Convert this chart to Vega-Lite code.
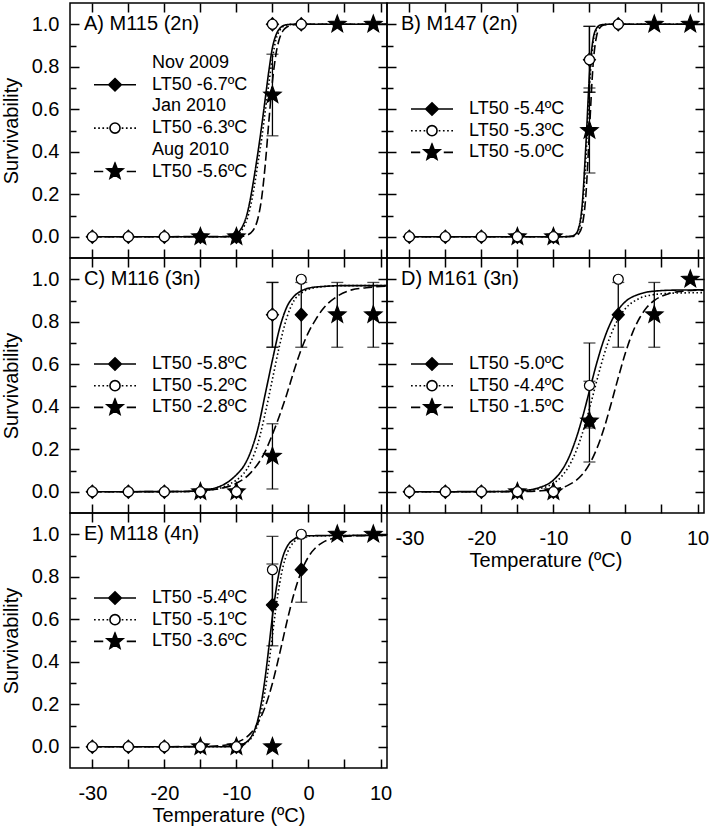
{
"$schema":"https://vega.github.io/schema/vega-lite/v6.json",
"padding":{"left":0,"top":1,"right":0,"bottom":0},
"config":{
 "font":"Liberation Sans",
 "view":{"stroke":"black","strokeWidth":1.5},
 "axis":{"grid":false,"domain":false,"labelFont":"Liberation Sans","labelFontSize":20,"labelColor":"black","titleFont":"Liberation Sans","titleFontSize":20,"titleFontWeight":"normal","titleColor":"black","tickColor":"black","tickWidth":1.5,"labelFlush":false,"labelOverlap":false},
 "legend":{"labelFont":"Liberation Sans","labelFontSize":18,"labelColor":"black","labelLimit":400},
 "text":{"font":"Liberation Sans","fontSize":20,"color":"black","align":"left","baseline":"middle"}
},
"datasets":{
"labels":[
{"panel":"A","label":"A) M115 (2n)"},
{"panel":"B","label":"B) M147 (2n)"},
{"panel":"C","label":"C) M116 (3n)"},
{"panel":"D","label":"D) M161 (3n)"},
{"panel":"E","label":"E) M118 (4n)"}
],
"points":[
{"panel":"A","series":"Nov 2009","legend":"LT50 -6.7ºC","t":-30,"s":0},
{"panel":"A","series":"Nov 2009","legend":"LT50 -6.7ºC","t":-25,"s":0},
{"panel":"A","series":"Nov 2009","legend":"LT50 -6.7ºC","t":-20,"s":0},
{"panel":"A","series":"Nov 2009","legend":"LT50 -6.7ºC","t":-15,"s":0},
{"panel":"A","series":"Nov 2009","legend":"LT50 -6.7ºC","t":-10,"s":0},
{"panel":"A","series":"Nov 2009","legend":"LT50 -6.7ºC","t":-5,"s":1},
{"panel":"A","series":"Nov 2009","legend":"LT50 -6.7ºC","t":-1,"s":1},
{"panel":"A","series":"Aug 2010","legend":"LT50 -5.6ºC","t":-15,"s":0},
{"panel":"A","series":"Aug 2010","legend":"LT50 -5.6ºC","t":-10,"s":0},
{"panel":"A","series":"Aug 2010","legend":"LT50 -5.6ºC","t":-5,"s":0.667,"lo":0.475,"hi":0.859},
{"panel":"A","series":"Aug 2010","legend":"LT50 -5.6ºC","t":4,"s":1},
{"panel":"A","series":"Aug 2010","legend":"LT50 -5.6ºC","t":9,"s":1},
{"panel":"A","series":"Jan 2010","legend":"LT50 -6.3ºC","t":-30,"s":0},
{"panel":"A","series":"Jan 2010","legend":"LT50 -6.3ºC","t":-25,"s":0},
{"panel":"A","series":"Jan 2010","legend":"LT50 -6.3ºC","t":-20,"s":0},
{"panel":"A","series":"Jan 2010","legend":"LT50 -6.3ºC","t":-5,"s":1},
{"panel":"A","series":"Jan 2010","legend":"LT50 -6.3ºC","t":-1,"s":1},

{"panel":"B","series":"Nov 2009","legend":"LT50 -5.4ºC","t":-30,"s":0},
{"panel":"B","series":"Nov 2009","legend":"LT50 -5.4ºC","t":-25,"s":0},
{"panel":"B","series":"Nov 2009","legend":"LT50 -5.4ºC","t":-20,"s":0},
{"panel":"B","series":"Nov 2009","legend":"LT50 -5.4ºC","t":-15,"s":0},
{"panel":"B","series":"Nov 2009","legend":"LT50 -5.4ºC","t":-10,"s":0},
{"panel":"B","series":"Nov 2009","legend":"LT50 -5.4ºC","t":-5,"s":0.833,"lo":0.68,"hi":0.99},
{"panel":"B","series":"Nov 2009","legend":"LT50 -5.4ºC","t":-1,"s":1},
{"panel":"B","series":"Aug 2010","legend":"LT50 -5.0ºC","t":-15,"s":0},
{"panel":"B","series":"Aug 2010","legend":"LT50 -5.0ºC","t":-10,"s":0},
{"panel":"B","series":"Aug 2010","legend":"LT50 -5.0ºC","t":-5,"s":0.5,"lo":0.3,"hi":0.7},
{"panel":"B","series":"Aug 2010","legend":"LT50 -5.0ºC","t":4,"s":1},
{"panel":"B","series":"Aug 2010","legend":"LT50 -5.0ºC","t":9,"s":1},
{"panel":"B","series":"Jan 2010","legend":"LT50 -5.3ºC","t":-30,"s":0},
{"panel":"B","series":"Jan 2010","legend":"LT50 -5.3ºC","t":-25,"s":0},
{"panel":"B","series":"Jan 2010","legend":"LT50 -5.3ºC","t":-20,"s":0},
{"panel":"B","series":"Jan 2010","legend":"LT50 -5.3ºC","t":-15,"s":0},
{"panel":"B","series":"Jan 2010","legend":"LT50 -5.3ºC","t":-10,"s":0},
{"panel":"B","series":"Jan 2010","legend":"LT50 -5.3ºC","t":-5,"s":0.833,"lo":0.68,"hi":0.99},
{"panel":"B","series":"Jan 2010","legend":"LT50 -5.3ºC","t":-1,"s":1},

{"panel":"C","series":"Nov 2009","legend":"LT50 -5.8ºC","t":-30,"s":0},
{"panel":"C","series":"Nov 2009","legend":"LT50 -5.8ºC","t":-25,"s":0},
{"panel":"C","series":"Nov 2009","legend":"LT50 -5.8ºC","t":-20,"s":0},
{"panel":"C","series":"Nov 2009","legend":"LT50 -5.8ºC","t":-15,"s":0},
{"panel":"C","series":"Nov 2009","legend":"LT50 -5.8ºC","t":-10,"s":0},
{"panel":"C","series":"Nov 2009","legend":"LT50 -5.8ºC","t":-5,"s":0.833,"lo":0.68,"hi":0.985},
{"panel":"C","series":"Nov 2009","legend":"LT50 -5.8ºC","t":-1,"s":0.833,"lo":0.68,"hi":0.985},
{"panel":"C","series":"Aug 2010","legend":"LT50 -2.8ºC","t":-15,"s":0},
{"panel":"C","series":"Aug 2010","legend":"LT50 -2.8ºC","t":-10,"s":0},
{"panel":"C","series":"Aug 2010","legend":"LT50 -2.8ºC","t":-5,"s":0.167,"lo":0.013,"hi":0.32},
{"panel":"C","series":"Aug 2010","legend":"LT50 -2.8ºC","t":4,"s":0.833,"lo":0.68,"hi":0.985},
{"panel":"C","series":"Aug 2010","legend":"LT50 -2.8ºC","t":9,"s":0.833,"lo":0.68,"hi":0.985},
{"panel":"C","series":"Jan 2010","legend":"LT50 -5.2ºC","t":-30,"s":0},
{"panel":"C","series":"Jan 2010","legend":"LT50 -5.2ºC","t":-25,"s":0},
{"panel":"C","series":"Jan 2010","legend":"LT50 -5.2ºC","t":-20,"s":0},
{"panel":"C","series":"Jan 2010","legend":"LT50 -5.2ºC","t":-15,"s":0},
{"panel":"C","series":"Jan 2010","legend":"LT50 -5.2ºC","t":-10,"s":0},
{"panel":"C","series":"Jan 2010","legend":"LT50 -5.2ºC","t":-5,"s":0.833,"lo":0.68,"hi":0.985},
{"panel":"C","series":"Jan 2010","legend":"LT50 -5.2ºC","t":-1,"s":1},

{"panel":"D","series":"Nov 2009","legend":"LT50 -5.0ºC","t":-30,"s":0},
{"panel":"D","series":"Nov 2009","legend":"LT50 -5.0ºC","t":-25,"s":0},
{"panel":"D","series":"Nov 2009","legend":"LT50 -5.0ºC","t":-20,"s":0},
{"panel":"D","series":"Nov 2009","legend":"LT50 -5.0ºC","t":-15,"s":0},
{"panel":"D","series":"Nov 2009","legend":"LT50 -5.0ºC","t":-10,"s":0},
{"panel":"D","series":"Nov 2009","legend":"LT50 -5.0ºC","t":-5,"s":0.333},
{"panel":"D","series":"Nov 2009","legend":"LT50 -5.0ºC","t":-1,"s":0.833,"lo":0.68,"hi":0.985},
{"panel":"D","series":"Aug 2010","legend":"LT50 -1.5ºC","t":-15,"s":0},
{"panel":"D","series":"Aug 2010","legend":"LT50 -1.5ºC","t":-10,"s":0},
{"panel":"D","series":"Aug 2010","legend":"LT50 -1.5ºC","t":-5,"s":0.333,"lo":0.14,"hi":0.52},
{"panel":"D","series":"Aug 2010","legend":"LT50 -1.5ºC","t":4,"s":0.833,"lo":0.68,"hi":0.985},
{"panel":"D","series":"Aug 2010","legend":"LT50 -1.5ºC","t":9,"s":1},
{"panel":"D","series":"Jan 2010","legend":"LT50 -4.4ºC","t":-30,"s":0},
{"panel":"D","series":"Jan 2010","legend":"LT50 -4.4ºC","t":-25,"s":0},
{"panel":"D","series":"Jan 2010","legend":"LT50 -4.4ºC","t":-20,"s":0},
{"panel":"D","series":"Jan 2010","legend":"LT50 -4.4ºC","t":-15,"s":0},
{"panel":"D","series":"Jan 2010","legend":"LT50 -4.4ºC","t":-10,"s":0},
{"panel":"D","series":"Jan 2010","legend":"LT50 -4.4ºC","t":-5,"s":0.5,"lo":0.3,"hi":0.7},
{"panel":"D","series":"Jan 2010","legend":"LT50 -4.4ºC","t":-1,"s":1},

{"panel":"E","series":"Nov 2009","legend":"LT50 -5.4ºC","t":-30,"s":0},
{"panel":"E","series":"Nov 2009","legend":"LT50 -5.4ºC","t":-25,"s":0},
{"panel":"E","series":"Nov 2009","legend":"LT50 -5.4ºC","t":-20,"s":0},
{"panel":"E","series":"Nov 2009","legend":"LT50 -5.4ºC","t":-15,"s":0},
{"panel":"E","series":"Nov 2009","legend":"LT50 -5.4ºC","t":-10,"s":0},
{"panel":"E","series":"Nov 2009","legend":"LT50 -5.4ºC","t":-5,"s":0.667,"lo":0.475,"hi":0.86},
{"panel":"E","series":"Nov 2009","legend":"LT50 -5.4ºC","t":-1,"s":0.833,"lo":0.68,"hi":0.985},
{"panel":"E","series":"Aug 2010","legend":"LT50 -3.6ºC","t":-15,"s":0},
{"panel":"E","series":"Aug 2010","legend":"LT50 -3.6ºC","t":-10,"s":0},
{"panel":"E","series":"Aug 2010","legend":"LT50 -3.6ºC","t":-5,"s":0},
{"panel":"E","series":"Aug 2010","legend":"LT50 -3.6ºC","t":4,"s":1},
{"panel":"E","series":"Aug 2010","legend":"LT50 -3.6ºC","t":9,"s":1},
{"panel":"E","series":"Jan 2010","legend":"LT50 -5.1ºC","t":-30,"s":0},
{"panel":"E","series":"Jan 2010","legend":"LT50 -5.1ºC","t":-25,"s":0},
{"panel":"E","series":"Jan 2010","legend":"LT50 -5.1ºC","t":-20,"s":0},
{"panel":"E","series":"Jan 2010","legend":"LT50 -5.1ºC","t":-15,"s":0},
{"panel":"E","series":"Jan 2010","legend":"LT50 -5.1ºC","t":-10,"s":0},
{"panel":"E","series":"Jan 2010","legend":"LT50 -5.1ºC","t":-5,"s":0.833,"lo":0.67,"hi":0.99},
{"panel":"E","series":"Jan 2010","legend":"LT50 -5.1ºC","t":-1,"s":1}
],
"curves":[
{"panel":"A","series":"Nov 2009","t":-30,"s":0},{"panel":"A","series":"Nov 2009","t":-12,"s":0},{"panel":"A","series":"Nov 2009","t":-10.5,"s":0.005},{"panel":"A","series":"Nov 2009","t":-10,"s":0.012},{"panel":"A","series":"Nov 2009","t":-9.5,"s":0.03},{"panel":"A","series":"Nov 2009","t":-9,"s":0.06},{"panel":"A","series":"Nov 2009","t":-8.5,"s":0.11},{"panel":"A","series":"Nov 2009","t":-8,"s":0.19},{"panel":"A","series":"Nov 2009","t":-7.5,"s":0.29},{"panel":"A","series":"Nov 2009","t":-7,"s":0.4},{"panel":"A","series":"Nov 2009","t":-6.5,"s":0.52},{"panel":"A","series":"Nov 2009","t":-6,"s":0.65},{"panel":"A","series":"Nov 2009","t":-5.5,"s":0.78},{"panel":"A","series":"Nov 2009","t":-5,"s":0.89},{"panel":"A","series":"Nov 2009","t":-4.5,"s":0.95},{"panel":"A","series":"Nov 2009","t":-4,"s":0.98},{"panel":"A","series":"Nov 2009","t":-3.5,"s":0.993},{"panel":"A","series":"Nov 2009","t":-3,"s":0.998},{"panel":"A","series":"Nov 2009","t":-2,"s":1},{"panel":"A","series":"Nov 2009","t":11,"s":1},
{"panel":"A","series":"Jan 2010","t":-30,"s":0},{"panel":"A","series":"Jan 2010","t":-11.5,"s":0},{"panel":"A","series":"Jan 2010","t":-10,"s":0.007},{"panel":"A","series":"Jan 2010","t":-9.5,"s":0.02},{"panel":"A","series":"Jan 2010","t":-9,"s":0.045},{"panel":"A","series":"Jan 2010","t":-8.5,"s":0.085},{"panel":"A","series":"Jan 2010","t":-8,"s":0.15},{"panel":"A","series":"Jan 2010","t":-7.5,"s":0.24},{"panel":"A","series":"Jan 2010","t":-7,"s":0.35},{"panel":"A","series":"Jan 2010","t":-6.5,"s":0.46},{"panel":"A","series":"Jan 2010","t":-6,"s":0.59},{"panel":"A","series":"Jan 2010","t":-5.5,"s":0.72},{"panel":"A","series":"Jan 2010","t":-5,"s":0.84},{"panel":"A","series":"Jan 2010","t":-4.5,"s":0.93},{"panel":"A","series":"Jan 2010","t":-4,"s":0.97},{"panel":"A","series":"Jan 2010","t":-3.5,"s":0.99},{"panel":"A","series":"Jan 2010","t":-3,"s":0.997},{"panel":"A","series":"Jan 2010","t":-2,"s":1},{"panel":"A","series":"Jan 2010","t":11,"s":1},
{"panel":"A","series":"Aug 2010","t":-30,"s":0},{"panel":"A","series":"Aug 2010","t":-10,"s":0.001},{"panel":"A","series":"Aug 2010","t":-9,"s":0.003},{"panel":"A","series":"Aug 2010","t":-8.5,"s":0.008},{"panel":"A","series":"Aug 2010","t":-8,"s":0.018},{"panel":"A","series":"Aug 2010","t":-7.5,"s":0.04},{"panel":"A","series":"Aug 2010","t":-7,"s":0.088},{"panel":"A","series":"Aug 2010","t":-6.5,"s":0.182},{"panel":"A","series":"Aug 2010","t":-6,"s":0.339},{"panel":"A","series":"Aug 2010","t":-5.5,"s":0.542},{"panel":"A","series":"Aug 2010","t":-5,"s":0.731},{"panel":"A","series":"Aug 2010","t":-4.5,"s":0.862},{"panel":"A","series":"Aug 2010","t":-4,"s":0.935},{"panel":"A","series":"Aug 2010","t":-3.5,"s":0.971},{"panel":"A","series":"Aug 2010","t":-3,"s":0.987},{"panel":"A","series":"Aug 2010","t":-2,"s":0.998},{"panel":"A","series":"Aug 2010","t":-1,"s":1},{"panel":"A","series":"Aug 2010","t":11,"s":1},

{"panel":"B","series":"Nov 2009","t":-30,"s":0},{"panel":"B","series":"Nov 2009","t":-9,"s":0},{"panel":"B","series":"Nov 2009","t":-8,"s":0.001},{"panel":"B","series":"Nov 2009","t":-7.5,"s":0.003},{"panel":"B","series":"Nov 2009","t":-7,"s":0.01},{"panel":"B","series":"Nov 2009","t":-6.5,"s":0.041},{"panel":"B","series":"Nov 2009","t":-6,"s":0.153},{"panel":"B","series":"Nov 2009","t":-5.5,"s":0.429},{"panel":"B","series":"Nov 2009","t":-5,"s":0.758},{"panel":"B","series":"Nov 2009","t":-4.5,"s":0.929},{"panel":"B","series":"Nov 2009","t":-4,"s":0.982},{"panel":"B","series":"Nov 2009","t":-3.5,"s":0.996},{"panel":"B","series":"Nov 2009","t":-3,"s":0.999},{"panel":"B","series":"Nov 2009","t":-2,"s":1},{"panel":"B","series":"Nov 2009","t":11,"s":1},
{"panel":"B","series":"Jan 2010","t":-30,"s":0},{"panel":"B","series":"Jan 2010","t":-9,"s":0},{"panel":"B","series":"Jan 2010","t":-8,"s":0.0005},{"panel":"B","series":"Jan 2010","t":-7.5,"s":0.002},{"panel":"B","series":"Jan 2010","t":-7,"s":0.008},{"panel":"B","series":"Jan 2010","t":-6.5,"s":0.031},{"panel":"B","series":"Jan 2010","t":-6,"s":0.119},{"panel":"B","series":"Jan 2010","t":-5.5,"s":0.361},{"panel":"B","series":"Jan 2010","t":-5,"s":0.702},{"panel":"B","series":"Jan 2010","t":-4.5,"s":0.908},{"panel":"B","series":"Jan 2010","t":-4,"s":0.976},{"panel":"B","series":"Jan 2010","t":-3.5,"s":0.994},{"panel":"B","series":"Jan 2010","t":-3,"s":0.999},{"panel":"B","series":"Jan 2010","t":-2,"s":1},{"panel":"B","series":"Jan 2010","t":11,"s":1},
{"panel":"B","series":"Aug 2010","t":-30,"s":0},{"panel":"B","series":"Aug 2010","t":-9,"s":0},{"panel":"B","series":"Aug 2010","t":-7.5,"s":0.001},{"panel":"B","series":"Aug 2010","t":-7,"s":0.003},{"panel":"B","series":"Aug 2010","t":-6.5,"s":0.014},{"panel":"B","series":"Aug 2010","t":-6,"s":0.054},{"panel":"B","series":"Aug 2010","t":-5.5,"s":0.193},{"panel":"B","series":"Aug 2010","t":-5,"s":0.5},{"panel":"B","series":"Aug 2010","t":-4.5,"s":0.807},{"panel":"B","series":"Aug 2010","t":-4,"s":0.946},{"panel":"B","series":"Aug 2010","t":-3.5,"s":0.986},{"panel":"B","series":"Aug 2010","t":-3,"s":0.997},{"panel":"B","series":"Aug 2010","t":-2.5,"s":0.999},{"panel":"B","series":"Aug 2010","t":-2,"s":1},{"panel":"B","series":"Aug 2010","t":11,"s":1},

{"panel":"C","series":"Nov 2009","t":-30,"s":0},{"panel":"C","series":"Nov 2009","t":-18,"s":0.001},{"panel":"C","series":"Nov 2009","t":-16,"s":0.003},{"panel":"C","series":"Nov 2009","t":-14,"s":0.01},{"panel":"C","series":"Nov 2009","t":-12,"s":0.03},{"panel":"C","series":"Nov 2009","t":-11,"s":0.05},{"panel":"C","series":"Nov 2009","t":-10,"s":0.08},{"panel":"C","series":"Nov 2009","t":-9,"s":0.12},{"panel":"C","series":"Nov 2009","t":-8,"s":0.19},{"panel":"C","series":"Nov 2009","t":-7,"s":0.3},{"panel":"C","series":"Nov 2009","t":-6,"s":0.46},{"panel":"C","series":"Nov 2009","t":-5,"s":0.62},{"panel":"C","series":"Nov 2009","t":-4,"s":0.77},{"panel":"C","series":"Nov 2009","t":-3,"s":0.87},{"panel":"C","series":"Nov 2009","t":-2,"s":0.92},{"panel":"C","series":"Nov 2009","t":-1,"s":0.945},{"panel":"C","series":"Nov 2009","t":0,"s":0.958},{"panel":"C","series":"Nov 2009","t":2,"s":0.966},{"panel":"C","series":"Nov 2009","t":5,"s":0.97},{"panel":"C","series":"Nov 2009","t":11,"s":0.97},
{"panel":"C","series":"Jan 2010","t":-30,"s":0},{"panel":"C","series":"Jan 2010","t":-18,"s":0.0005},{"panel":"C","series":"Jan 2010","t":-16,"s":0.002},{"panel":"C","series":"Jan 2010","t":-14,"s":0.007},{"panel":"C","series":"Jan 2010","t":-12,"s":0.02},{"panel":"C","series":"Jan 2010","t":-11,"s":0.035},{"panel":"C","series":"Jan 2010","t":-10,"s":0.055},{"panel":"C","series":"Jan 2010","t":-9,"s":0.085},{"panel":"C","series":"Jan 2010","t":-8,"s":0.14},{"panel":"C","series":"Jan 2010","t":-7,"s":0.23},{"panel":"C","series":"Jan 2010","t":-6,"s":0.37},{"panel":"C","series":"Jan 2010","t":-5,"s":0.53},{"panel":"C","series":"Jan 2010","t":-4,"s":0.69},{"panel":"C","series":"Jan 2010","t":-3,"s":0.82},{"panel":"C","series":"Jan 2010","t":-2,"s":0.9},{"panel":"C","series":"Jan 2010","t":-1,"s":0.935},{"panel":"C","series":"Jan 2010","t":0,"s":0.953},{"panel":"C","series":"Jan 2010","t":2,"s":0.965},{"panel":"C","series":"Jan 2010","t":5,"s":0.97},{"panel":"C","series":"Jan 2010","t":11,"s":0.97},
{"panel":"C","series":"Aug 2010","t":-30,"s":0},{"panel":"C","series":"Aug 2010","t":-18,"s":0.001},{"panel":"C","series":"Aug 2010","t":-15,"s":0.005},{"panel":"C","series":"Aug 2010","t":-12,"s":0.017},{"panel":"C","series":"Aug 2010","t":-10,"s":0.04},{"panel":"C","series":"Aug 2010","t":-8,"s":0.09},{"panel":"C","series":"Aug 2010","t":-6,"s":0.19},{"panel":"C","series":"Aug 2010","t":-5,"s":0.27},{"panel":"C","series":"Aug 2010","t":-4,"s":0.36},{"panel":"C","series":"Aug 2010","t":-3,"s":0.46},{"panel":"C","series":"Aug 2010","t":-2,"s":0.57},{"panel":"C","series":"Aug 2010","t":-1,"s":0.67},{"panel":"C","series":"Aug 2010","t":0,"s":0.75},{"panel":"C","series":"Aug 2010","t":1,"s":0.81},{"panel":"C","series":"Aug 2010","t":2,"s":0.86},{"panel":"C","series":"Aug 2010","t":4,"s":0.92},{"panel":"C","series":"Aug 2010","t":6,"s":0.95},{"panel":"C","series":"Aug 2010","t":8,"s":0.96},{"panel":"C","series":"Aug 2010","t":11,"s":0.968},

{"panel":"D","series":"Nov 2009","t":-30,"s":0},{"panel":"D","series":"Nov 2009","t":-18,"s":0.001},{"panel":"D","series":"Nov 2009","t":-16,"s":0.002},{"panel":"D","series":"Nov 2009","t":-14,"s":0.006},{"panel":"D","series":"Nov 2009","t":-12,"s":0.019},{"panel":"D","series":"Nov 2009","t":-10,"s":0.055},{"panel":"D","series":"Nov 2009","t":-9,"s":0.093},{"panel":"D","series":"Nov 2009","t":-8,"s":0.151},{"panel":"D","series":"Nov 2009","t":-7,"s":0.236},{"panel":"D","series":"Nov 2009","t":-6,"s":0.346},{"panel":"D","series":"Nov 2009","t":-5,"s":0.475},{"panel":"D","series":"Nov 2009","t":-4,"s":0.604},{"panel":"D","series":"Nov 2009","t":-3,"s":0.715},{"panel":"D","series":"Nov 2009","t":-2,"s":0.799},{"panel":"D","series":"Nov 2009","t":-1,"s":0.857},{"panel":"D","series":"Nov 2009","t":0,"s":0.895},{"panel":"D","series":"Nov 2009","t":2,"s":0.931},{"panel":"D","series":"Nov 2009","t":4,"s":0.944},{"panel":"D","series":"Nov 2009","t":7,"s":0.949},{"panel":"D","series":"Nov 2009","t":11,"s":0.95},
{"panel":"D","series":"Jan 2010","t":-30,"s":0},{"panel":"D","series":"Jan 2010","t":-18,"s":0.0005},{"panel":"D","series":"Jan 2010","t":-16,"s":0.0015},{"panel":"D","series":"Jan 2010","t":-14,"s":0.0045},{"panel":"D","series":"Jan 2010","t":-12,"s":0.014},{"panel":"D","series":"Jan 2010","t":-10,"s":0.04},{"panel":"D","series":"Jan 2010","t":-9,"s":0.067},{"panel":"D","series":"Jan 2010","t":-8,"s":0.112},{"panel":"D","series":"Jan 2010","t":-7,"s":0.179},{"panel":"D","series":"Jan 2010","t":-6,"s":0.273},{"panel":"D","series":"Jan 2010","t":-5,"s":0.391},{"panel":"D","series":"Jan 2010","t":-4,"s":0.52},{"panel":"D","series":"Jan 2010","t":-3,"s":0.642},{"panel":"D","series":"Jan 2010","t":-2,"s":0.741},{"panel":"D","series":"Jan 2010","t":-1,"s":0.814},{"panel":"D","series":"Jan 2010","t":0,"s":0.862},{"panel":"D","series":"Jan 2010","t":2,"s":0.911},{"panel":"D","series":"Jan 2010","t":4,"s":0.928},{"panel":"D","series":"Jan 2010","t":7,"s":0.935},{"panel":"D","series":"Jan 2010","t":11,"s":0.937},
{"panel":"D","series":"Aug 2010","t":-30,"s":0},{"panel":"D","series":"Aug 2010","t":-18,"s":0.0002},{"panel":"D","series":"Aug 2010","t":-14,"s":0.0013},{"panel":"D","series":"Aug 2010","t":-12,"s":0.004},{"panel":"D","series":"Aug 2010","t":-10,"s":0.011},{"panel":"D","series":"Aug 2010","t":-8,"s":0.03},{"panel":"D","series":"Aug 2010","t":-7,"s":0.05},{"panel":"D","series":"Aug 2010","t":-6,"s":0.081},{"panel":"D","series":"Aug 2010","t":-5,"s":0.13},{"panel":"D","series":"Aug 2010","t":-4,"s":0.201},{"panel":"D","series":"Aug 2010","t":-3,"s":0.296},{"panel":"D","series":"Aug 2010","t":-2,"s":0.413},{"panel":"D","series":"Aug 2010","t":-1,"s":0.537},{"panel":"D","series":"Aug 2010","t":0,"s":0.654},{"panel":"D","series":"Aug 2010","t":1,"s":0.75},{"panel":"D","series":"Aug 2010","t":2,"s":0.82},{"panel":"D","series":"Aug 2010","t":3,"s":0.869},{"panel":"D","series":"Aug 2010","t":4,"s":0.9},{"panel":"D","series":"Aug 2010","t":6,"s":0.932},{"panel":"D","series":"Aug 2010","t":8,"s":0.944},{"panel":"D","series":"Aug 2010","t":11,"s":0.949},

{"panel":"E","series":"Nov 2009","t":-30,"s":0},{"panel":"E","series":"Nov 2009","t":-13,"s":0},{"panel":"E","series":"Nov 2009","t":-11,"s":0.001},{"panel":"E","series":"Nov 2009","t":-10,"s":0.004},{"panel":"E","series":"Nov 2009","t":-9,"s":0.014},{"panel":"E","series":"Nov 2009","t":-8,"s":0.044},{"panel":"E","series":"Nov 2009","t":-7.5,"s":0.077},{"panel":"E","series":"Nov 2009","t":-7,"s":0.131},{"panel":"E","series":"Nov 2009","t":-6.5,"s":0.215},{"panel":"E","series":"Nov 2009","t":-6,"s":0.328},{"panel":"E","series":"Nov 2009","t":-5.5,"s":0.468},{"panel":"E","series":"Nov 2009","t":-5,"s":0.613},{"panel":"E","series":"Nov 2009","t":-4.5,"s":0.738},{"panel":"E","series":"Nov 2009","t":-4,"s":0.834},{"panel":"E","series":"Nov 2009","t":-3.5,"s":0.9},{"panel":"E","series":"Nov 2009","t":-3,"s":0.94},{"panel":"E","series":"Nov 2009","t":-2,"s":0.977},{"panel":"E","series":"Nov 2009","t":-1,"s":0.989},{"panel":"E","series":"Nov 2009","t":0,"s":0.993},{"panel":"E","series":"Nov 2009","t":11,"s":0.995},
{"panel":"E","series":"Jan 2010","t":-30,"s":0},{"panel":"E","series":"Jan 2010","t":-12,"s":0},{"panel":"E","series":"Jan 2010","t":-11,"s":0.001},{"panel":"E","series":"Jan 2010","t":-10,"s":0.004},{"panel":"E","series":"Jan 2010","t":-9,"s":0.013},{"panel":"E","series":"Jan 2010","t":-8,"s":0.038},{"panel":"E","series":"Jan 2010","t":-7.5,"s":0.065},{"panel":"E","series":"Jan 2010","t":-7,"s":0.108},{"panel":"E","series":"Jan 2010","t":-6.5,"s":0.174},{"panel":"E","series":"Jan 2010","t":-6,"s":0.268},{"panel":"E","series":"Jan 2010","t":-5.5,"s":0.389},{"panel":"E","series":"Jan 2010","t":-5,"s":0.525},{"panel":"E","series":"Jan 2010","t":-4.5,"s":0.658},{"panel":"E","series":"Jan 2010","t":-4,"s":0.768},{"panel":"E","series":"Jan 2010","t":-3.5,"s":0.852},{"panel":"E","series":"Jan 2010","t":-3,"s":0.907},{"panel":"E","series":"Jan 2010","t":-2,"s":0.964},{"panel":"E","series":"Jan 2010","t":-1,"s":0.985},{"panel":"E","series":"Jan 2010","t":0,"s":0.992},{"panel":"E","series":"Jan 2010","t":11,"s":0.995},
{"panel":"E","series":"Aug 2010","t":-30,"s":0},{"panel":"E","series":"Aug 2010","t":-16,"s":0.0005},{"panel":"E","series":"Aug 2010","t":-14,"s":0.002},{"panel":"E","series":"Aug 2010","t":-12,"s":0.006},{"panel":"E","series":"Aug 2010","t":-11,"s":0.011},{"panel":"E","series":"Aug 2010","t":-10,"s":0.02},{"panel":"E","series":"Aug 2010","t":-9,"s":0.036},{"panel":"E","series":"Aug 2010","t":-8,"s":0.064},{"panel":"E","series":"Aug 2010","t":-7,"s":0.113},{"panel":"E","series":"Aug 2010","t":-6,"s":0.189},{"panel":"E","series":"Aug 2010","t":-5,"s":0.299},{"panel":"E","series":"Aug 2010","t":-4,"s":0.438},{"panel":"E","series":"Aug 2010","t":-3,"s":0.587},{"panel":"E","series":"Aug 2010","t":-2,"s":0.721},{"panel":"E","series":"Aug 2010","t":-1,"s":0.825},{"panel":"E","series":"Aug 2010","t":0,"s":0.894},{"panel":"E","series":"Aug 2010","t":1,"s":0.937},{"panel":"E","series":"Aug 2010","t":2,"s":0.962},{"panel":"E","series":"Aug 2010","t":3,"s":0.977},{"panel":"E","series":"Aug 2010","t":4,"s":0.985},{"panel":"E","series":"Aug 2010","t":6,"s":0.992},{"panel":"E","series":"Aug 2010","t":11,"s":0.995}
]
},
"columns":2,
"spacing":0,
"bounds":"flush",
"concat":[
{
 "width":317,"height":255,
 "resolve":{"scale":{"shape":"independent","fill":"independent"},"axis":{"x":"independent","y":"independent"}},
 "layer":[
  {"data":{"name":"curves"},"transform":[{"filter":"datum.panel === 'A'"}],
   "mark":{"type":"line","interpolate":"monotone","color":"black","strokeWidth":1.6,"clip":true},
   "encoding":{
    "x":{"field":"t","type":"quantitative","scale":{"domain":[-33.1,10.9],"nice":false,"zero":false},"axis":{"orient":"bottom","values":[-30,-20,-10,0,10],"ticks":false,"tickSize":0,"labels":false,"title":null}},
    "y":{"field":"s","type":"quantitative","scale":{"domain":[-0.1,1.1],"nice":false,"zero":false},"axis":{"orient":"left","values":[0,0.2,0.4,0.6,0.8,1],"format":".1f","ticks":false,"tickSize":0,"labelPadding":11,"title":"Survivability","titlePadding":10}},
    "strokeDash":{"field":"series","type":"nominal","scale":{"domain":["Nov 2009","Jan 2010","Aug 2010"],"range":[[1,0],[1.5,2.5],[9,4]]},"legend":null}
   }},
  {"data":{"name":"points"},"transform":[{"filter":"datum.panel === 'A' && isValid(datum.lo)"}],
   "mark":{"type":"errorbar","ticks":{"size":12,"color":"black","thickness":1.3},"rule":{"color":"black","strokeWidth":1.3}},
   "encoding":{
    "x":{"field":"t","type":"quantitative","scale":{"domain":[-33.1,10.9],"nice":false,"zero":false},"axis":null},
    "y":{"field":"lo","type":"quantitative","scale":{"domain":[-0.1,1.1],"nice":false,"zero":false},"axis":null},
    "y2":{"field":"hi"}
   }},
  {"data":{"name":"points"},"transform":[{"filter":"datum.panel === 'A'"}],
   "mark":{"type":"point","filled":true,"stroke":"black","strokeWidth":1.2,"size":400,"opacity":1},
   "encoding":{
    "x":{"field":"t","type":"quantitative","scale":{"domain":[-33.1,10.9],"nice":false,"zero":false},"axis":{"orient":"top","values":[-30,-25,-20,-15,-10,-5,0,5,10],"labels":false,"tickSize":-9,"title":null}},
    "y":{"field":"s","type":"quantitative","scale":{"domain":[-0.1,1.1],"nice":false,"zero":false},"axis":{"orient":"right","values":[0,0.1,0.2,0.3,0.4,0.5,0.6,0.7,0.8,0.9,1],"labels":false,"tickSize":{"condition":{"test":"round(datum.value*10) % 2 === 1","value":-6},"value":-9},"title":null}},
    "shape":{"field":"series","type":"nominal","scale":{"domain":["Nov 2009","Jan 2010","Aug 2010"],"range":["M0,-0.65L0.6,0L0,0.65L-0.6,0Z","M0.5,0A0.5,0.5,0,1,1,-0.5,0A0.5,0.5,0,1,1,0.5,0Z","M0,-0.9L0.223,-0.307L0.856,-0.278L0.361,0.117L0.529,0.728L0,0.38L-0.529,0.728L-0.361,0.117L-0.856,-0.278L-0.223,-0.307Z"]},"legend":null},
    "fill":{"field":"series","type":"nominal","scale":{"domain":["Nov 2009","Jan 2010","Aug 2010"],"range":["black","white","black"]},"legend":null}
   }},
  {"data":{"name":"points"},"transform":[{"filter":"datum.panel === 'A'"}],
   "mark":{"type":"point","filled":true,"stroke":"black","strokeWidth":1.6,"size":1764,"opacity":0},
   "encoding":{
    "x":{"field":"t","type":"quantitative","scale":{"domain":[-33.1,10.9],"nice":false,"zero":false},"axis":{"orient":"bottom","values":[-30,-25,-20,-15,-10,-5,0,5,10],"labels":false,"tickSize":-9,"title":null}},
    "y":{"field":"s","type":"quantitative","scale":{"domain":[-0.1,1.1],"nice":false,"zero":false},"axis":{"orient":"left","values":[0,0.1,0.2,0.3,0.4,0.5,0.6,0.7,0.8,0.9,1],"labels":false,"tickSize":{"condition":{"test":"round(datum.value*10) % 2 === 1","value":-6},"value":-9},"title":null}},
    "shape":{"field":"legend","type":"nominal","scale":{"domain":["Nov 2009","LT50 -6.7ºC","Jan 2010","LT50 -6.3ºC","Aug 2010","LT50 -5.6ºC"],"range":["M0,0","M-1,0H-0.3M0.3,0H1M0,-0.29L0.3,0L0,0.29L-0.3,0Z","M0,0","M-1,0h0.08M-0.8,0h0.08M-0.6,0h0.08M-0.4,0h0.08M0.32,0h0.08M0.52,0h0.08M0.72,0h0.08M0.92,0h0.08M0.24,0A0.24,0.24,0,1,1,-0.24,0A0.24,0.24,0,1,1,0.24,0Z","M0,0","M-1,0H-0.56M0.56,0H1M0,-0.4L0.1,-0.138L0.38,-0.124L0.162,0.053L0.235,0.324L0,0.17L-0.235,0.324L-0.162,0.053L-0.38,-0.124L-0.1,-0.138Z"]},
     "legend":{"title":null,"orient":"none","legendX":23,"legendY":50,"symbolSize":1764,"symbolStrokeWidth":1.6,"symbolStrokeColor":"black","symbolOpacity":1,"clipHeight":20,"rowPadding":1.7,"labelOffset":15,"padding":0,"offset":0,"symbolOffset":0,"encode":{"symbols":{"update":{"stroke":{"value":"black"},"strokeWidth":{"value":1.6},"opacity":{"value":1}}}}}},
    "fill":{"field":"legend","type":"nominal","scale":{"domain":["Nov 2009","LT50 -6.7ºC","Jan 2010","LT50 -6.3ºC","Aug 2010","LT50 -5.6ºC"],"range":["white","black","white","white","white","black"]},
     "legend":{"title":null,"orient":"none","legendX":23,"legendY":50,"symbolSize":1764,"symbolStrokeWidth":1.6,"symbolStrokeColor":"black","symbolOpacity":1,"clipHeight":20,"rowPadding":1.7,"labelOffset":15,"padding":0,"offset":0,"symbolOffset":0,"encode":{"symbols":{"update":{"stroke":{"value":"black"},"strokeWidth":{"value":1.6},"opacity":{"value":1}}}}}}
   }},
  {"data":{"name":"labels"},"transform":[{"filter":"datum.panel === 'A'"}],
   "mark":{"type":"text"},
   "encoding":{
    "x":{"datum":-31.16,"type":"quantitative","scale":{"domain":[-33.1,10.9],"nice":false,"zero":false},"axis":null},
    "y":{"datum":1,"type":"quantitative","scale":{"domain":[-0.1,1.1],"nice":false,"zero":false},"axis":null},
    "text":{"field":"label"}
   }}
 ]
},
{
 "width":317,"height":255,
 "resolve":{"scale":{"shape":"independent","fill":"independent"},"axis":{"x":"independent","y":"independent"}},
 "layer":[
  {"data":{"name":"curves"},"transform":[{"filter":"datum.panel === 'B'"}],
   "mark":{"type":"line","interpolate":"monotone","color":"black","strokeWidth":1.6,"clip":true},
   "encoding":{
    "x":{"field":"t","type":"quantitative","scale":{"domain":[-33.1,10.9],"nice":false,"zero":false},"axis":{"orient":"bottom","values":[-30,-20,-10,0,10],"ticks":false,"tickSize":0,"labels":false,"title":null}},
    "y":{"field":"s","type":"quantitative","scale":{"domain":[-0.1,1.1],"nice":false,"zero":false},"axis":{"orient":"left","values":[0,0.2,0.4,0.6,0.8,1],"ticks":false,"tickSize":0,"labels":false,"title":null}},
    "strokeDash":{"field":"series","type":"nominal","scale":{"domain":["Nov 2009","Jan 2010","Aug 2010"],"range":[[1,0],[1.5,2.5],[9,4]]},"legend":null}
   }},
  {"data":{"name":"points"},"transform":[{"filter":"datum.panel === 'B' && isValid(datum.lo)"}],
   "mark":{"type":"errorbar","ticks":{"size":12,"color":"black","thickness":1.3},"rule":{"color":"black","strokeWidth":1.3}},
   "encoding":{
    "x":{"field":"t","type":"quantitative","scale":{"domain":[-33.1,10.9],"nice":false,"zero":false},"axis":null},
    "y":{"field":"lo","type":"quantitative","scale":{"domain":[-0.1,1.1],"nice":false,"zero":false},"axis":null},
    "y2":{"field":"hi"}
   }},
  {"data":{"name":"points"},"transform":[{"filter":"datum.panel === 'B'"}],
   "mark":{"type":"point","filled":true,"stroke":"black","strokeWidth":1.2,"size":400,"opacity":1},
   "encoding":{
    "x":{"field":"t","type":"quantitative","scale":{"domain":[-33.1,10.9],"nice":false,"zero":false},"axis":{"orient":"top","values":[-30,-25,-20,-15,-10,-5,0,5,10],"labels":false,"tickSize":-9,"title":null}},
    "y":{"field":"s","type":"quantitative","scale":{"domain":[-0.1,1.1],"nice":false,"zero":false},"axis":{"orient":"right","values":[0,0.1,0.2,0.3,0.4,0.5,0.6,0.7,0.8,0.9,1],"labels":false,"tickSize":{"condition":{"test":"round(datum.value*10) % 2 === 1","value":-6},"value":-9},"title":null}},
    "shape":{"field":"series","type":"nominal","scale":{"domain":["Nov 2009","Jan 2010","Aug 2010"],"range":["M0,-0.65L0.6,0L0,0.65L-0.6,0Z","M0.5,0A0.5,0.5,0,1,1,-0.5,0A0.5,0.5,0,1,1,0.5,0Z","M0,-0.9L0.223,-0.307L0.856,-0.278L0.361,0.117L0.529,0.728L0,0.38L-0.529,0.728L-0.361,0.117L-0.856,-0.278L-0.223,-0.307Z"]},"legend":null},
    "fill":{"field":"series","type":"nominal","scale":{"domain":["Nov 2009","Jan 2010","Aug 2010"],"range":["black","white","black"]},"legend":null}
   }},
  {"data":{"name":"points"},"transform":[{"filter":"datum.panel === 'B'"}],
   "mark":{"type":"point","filled":true,"stroke":"black","strokeWidth":1.6,"size":1764,"opacity":0},
   "encoding":{
    "x":{"field":"t","type":"quantitative","scale":{"domain":[-33.1,10.9],"nice":false,"zero":false},"axis":{"orient":"bottom","values":[-30,-25,-20,-15,-10,-5,0,5,10],"labels":false,"tickSize":-9,"title":null}},
    "y":{"field":"s","type":"quantitative","scale":{"domain":[-0.1,1.1],"nice":false,"zero":false},"axis":{"orient":"left","values":[0,0.1,0.2,0.3,0.4,0.5,0.6,0.7,0.8,0.9,1],"labels":false,"tickSize":{"condition":{"test":"round(datum.value*10) % 2 === 1","value":-6},"value":-9},"title":null}},
    "shape":{"field":"legend","type":"nominal","scale":{"domain":["LT50 -5.4ºC","LT50 -5.3ºC","LT50 -5.0ºC"],"range":["M-1,0H-0.3M0.3,0H1M0,-0.29L0.3,0L0,0.29L-0.3,0Z","M-1,0h0.08M-0.8,0h0.08M-0.6,0h0.08M-0.4,0h0.08M0.32,0h0.08M0.52,0h0.08M0.72,0h0.08M0.92,0h0.08M0.24,0A0.24,0.24,0,1,1,-0.24,0A0.24,0.24,0,1,1,0.24,0Z","M-1,0H-0.56M0.56,0H1M0,-0.4L0.1,-0.138L0.38,-0.124L0.162,0.053L0.235,0.324L0,0.17L-0.235,0.324L-0.162,0.053L-0.38,-0.124L-0.1,-0.138Z"]},
     "legend":{"title":null,"orient":"none","legendX":23,"legendY":96,"symbolSize":1764,"symbolStrokeWidth":1.6,"symbolStrokeColor":"black","symbolOpacity":1,"clipHeight":20,"rowPadding":1.7,"labelOffset":15,"padding":0,"offset":0,"symbolOffset":0,"encode":{"symbols":{"update":{"stroke":{"value":"black"},"strokeWidth":{"value":1.6},"opacity":{"value":1}}}}}},
    "fill":{"field":"legend","type":"nominal","scale":{"domain":["LT50 -5.4ºC","LT50 -5.3ºC","LT50 -5.0ºC"],"range":["black","white","black"]},
     "legend":{"title":null,"orient":"none","legendX":23,"legendY":96,"symbolSize":1764,"symbolStrokeWidth":1.6,"symbolStrokeColor":"black","symbolOpacity":1,"clipHeight":20,"rowPadding":1.7,"labelOffset":15,"padding":0,"offset":0,"symbolOffset":0,"encode":{"symbols":{"update":{"stroke":{"value":"black"},"strokeWidth":{"value":1.6},"opacity":{"value":1}}}}}}
   }},
  {"data":{"name":"labels"},"transform":[{"filter":"datum.panel === 'B'"}],
   "mark":{"type":"text"},
   "encoding":{
    "x":{"datum":-31.16,"type":"quantitative","scale":{"domain":[-33.1,10.9],"nice":false,"zero":false},"axis":null},
    "y":{"datum":1,"type":"quantitative","scale":{"domain":[-0.1,1.1],"nice":false,"zero":false},"axis":null},
    "text":{"field":"label"}
   }}
 ]
},
{
 "width":317,"height":255,
 "resolve":{"scale":{"shape":"independent","fill":"independent"},"axis":{"x":"independent","y":"independent"}},
 "layer":[
  {"data":{"name":"curves"},"transform":[{"filter":"datum.panel === 'C'"}],
   "mark":{"type":"line","interpolate":"monotone","color":"black","strokeWidth":1.6,"clip":true},
   "encoding":{
    "x":{"field":"t","type":"quantitative","scale":{"domain":[-33.1,10.9],"nice":false,"zero":false},"axis":{"orient":"bottom","values":[-30,-20,-10,0,10],"ticks":false,"tickSize":0,"labels":false,"title":null}},
    "y":{"field":"s","type":"quantitative","scale":{"domain":[-0.1,1.1],"nice":false,"zero":false},"axis":{"orient":"left","values":[0,0.2,0.4,0.6,0.8,1],"format":".1f","ticks":false,"tickSize":0,"labelPadding":11,"title":"Survivability","titlePadding":10}},
    "strokeDash":{"field":"series","type":"nominal","scale":{"domain":["Nov 2009","Jan 2010","Aug 2010"],"range":[[1,0],[1.5,2.5],[9,4]]},"legend":null}
   }},
  {"data":{"name":"points"},"transform":[{"filter":"datum.panel === 'C' && isValid(datum.lo)"}],
   "mark":{"type":"errorbar","ticks":{"size":12,"color":"black","thickness":1.3},"rule":{"color":"black","strokeWidth":1.3}},
   "encoding":{
    "x":{"field":"t","type":"quantitative","scale":{"domain":[-33.1,10.9],"nice":false,"zero":false},"axis":null},
    "y":{"field":"lo","type":"quantitative","scale":{"domain":[-0.1,1.1],"nice":false,"zero":false},"axis":null},
    "y2":{"field":"hi"}
   }},
  {"data":{"name":"points"},"transform":[{"filter":"datum.panel === 'C'"}],
   "mark":{"type":"point","filled":true,"stroke":"black","strokeWidth":1.2,"size":400,"opacity":1},
   "encoding":{
    "x":{"field":"t","type":"quantitative","scale":{"domain":[-33.1,10.9],"nice":false,"zero":false},"axis":{"orient":"top","values":[-30,-25,-20,-15,-10,-5,0,5,10],"labels":false,"tickSize":-9,"title":null}},
    "y":{"field":"s","type":"quantitative","scale":{"domain":[-0.1,1.1],"nice":false,"zero":false},"axis":{"orient":"right","values":[0,0.1,0.2,0.3,0.4,0.5,0.6,0.7,0.8,0.9,1],"labels":false,"tickSize":{"condition":{"test":"round(datum.value*10) % 2 === 1","value":-6},"value":-9},"title":null}},
    "shape":{"field":"series","type":"nominal","scale":{"domain":["Nov 2009","Jan 2010","Aug 2010"],"range":["M0,-0.65L0.6,0L0,0.65L-0.6,0Z","M0.5,0A0.5,0.5,0,1,1,-0.5,0A0.5,0.5,0,1,1,0.5,0Z","M0,-0.9L0.223,-0.307L0.856,-0.278L0.361,0.117L0.529,0.728L0,0.38L-0.529,0.728L-0.361,0.117L-0.856,-0.278L-0.223,-0.307Z"]},"legend":null},
    "fill":{"field":"series","type":"nominal","scale":{"domain":["Nov 2009","Jan 2010","Aug 2010"],"range":["black","white","black"]},"legend":null}
   }},
  {"data":{"name":"points"},"transform":[{"filter":"datum.panel === 'C'"}],
   "mark":{"type":"point","filled":true,"stroke":"black","strokeWidth":1.6,"size":1764,"opacity":0},
   "encoding":{
    "x":{"field":"t","type":"quantitative","scale":{"domain":[-33.1,10.9],"nice":false,"zero":false},"axis":{"orient":"bottom","values":[-30,-25,-20,-15,-10,-5,0,5,10],"labels":false,"tickSize":-9,"title":null}},
    "y":{"field":"s","type":"quantitative","scale":{"domain":[-0.1,1.1],"nice":false,"zero":false},"axis":{"orient":"left","values":[0,0.1,0.2,0.3,0.4,0.5,0.6,0.7,0.8,0.9,1],"labels":false,"tickSize":{"condition":{"test":"round(datum.value*10) % 2 === 1","value":-6},"value":-9},"title":null}},
    "shape":{"field":"legend","type":"nominal","scale":{"domain":["LT50 -5.8ºC","LT50 -5.2ºC","LT50 -2.8ºC"],"range":["M-1,0H-0.3M0.3,0H1M0,-0.29L0.3,0L0,0.29L-0.3,0Z","M-1,0h0.08M-0.8,0h0.08M-0.6,0h0.08M-0.4,0h0.08M0.32,0h0.08M0.52,0h0.08M0.72,0h0.08M0.92,0h0.08M0.24,0A0.24,0.24,0,1,1,-0.24,0A0.24,0.24,0,1,1,0.24,0Z","M-1,0H-0.56M0.56,0H1M0,-0.4L0.1,-0.138L0.38,-0.124L0.162,0.053L0.235,0.324L0,0.17L-0.235,0.324L-0.162,0.053L-0.38,-0.124L-0.1,-0.138Z"]},
     "legend":{"title":null,"orient":"none","legendX":23,"legendY":96,"symbolSize":1764,"symbolStrokeWidth":1.6,"symbolStrokeColor":"black","symbolOpacity":1,"clipHeight":20,"rowPadding":1.7,"labelOffset":15,"padding":0,"offset":0,"symbolOffset":0,"encode":{"symbols":{"update":{"stroke":{"value":"black"},"strokeWidth":{"value":1.6},"opacity":{"value":1}}}}}},
    "fill":{"field":"legend","type":"nominal","scale":{"domain":["LT50 -5.8ºC","LT50 -5.2ºC","LT50 -2.8ºC"],"range":["black","white","black"]},
     "legend":{"title":null,"orient":"none","legendX":23,"legendY":96,"symbolSize":1764,"symbolStrokeWidth":1.6,"symbolStrokeColor":"black","symbolOpacity":1,"clipHeight":20,"rowPadding":1.7,"labelOffset":15,"padding":0,"offset":0,"symbolOffset":0,"encode":{"symbols":{"update":{"stroke":{"value":"black"},"strokeWidth":{"value":1.6},"opacity":{"value":1}}}}}}
   }},
  {"data":{"name":"labels"},"transform":[{"filter":"datum.panel === 'C'"}],
   "mark":{"type":"text"},
   "encoding":{
    "x":{"datum":-31.16,"type":"quantitative","scale":{"domain":[-33.1,10.9],"nice":false,"zero":false},"axis":null},
    "y":{"datum":1,"type":"quantitative","scale":{"domain":[-0.1,1.1],"nice":false,"zero":false},"axis":null},
    "text":{"field":"label"}
   }}
 ]
},
{
 "width":317,"height":255,
 "resolve":{"scale":{"shape":"independent","fill":"independent"},"axis":{"x":"independent","y":"independent"}},
 "layer":[
  {"data":{"name":"curves"},"transform":[{"filter":"datum.panel === 'D'"}],
   "mark":{"type":"line","interpolate":"monotone","color":"black","strokeWidth":1.6,"clip":true},
   "encoding":{
    "x":{"field":"t","type":"quantitative","scale":{"domain":[-33.1,10.9],"nice":false,"zero":false},"axis":{"orient":"bottom","values":[-30,-20,-10,0,10],"labelExpr":"'' + datum.value","ticks":false,"tickSize":0,"labels":true,"labelPadding":15,"title":"Temperature (ºC)","titlePadding":2}},
    "y":{"field":"s","type":"quantitative","scale":{"domain":[-0.1,1.1],"nice":false,"zero":false},"axis":{"orient":"left","values":[0,0.2,0.4,0.6,0.8,1],"ticks":false,"tickSize":0,"labels":false,"title":null}},
    "strokeDash":{"field":"series","type":"nominal","scale":{"domain":["Nov 2009","Jan 2010","Aug 2010"],"range":[[1,0],[1.5,2.5],[9,4]]},"legend":null}
   }},
  {"data":{"name":"points"},"transform":[{"filter":"datum.panel === 'D' && isValid(datum.lo)"}],
   "mark":{"type":"errorbar","ticks":{"size":12,"color":"black","thickness":1.3},"rule":{"color":"black","strokeWidth":1.3}},
   "encoding":{
    "x":{"field":"t","type":"quantitative","scale":{"domain":[-33.1,10.9],"nice":false,"zero":false},"axis":null},
    "y":{"field":"lo","type":"quantitative","scale":{"domain":[-0.1,1.1],"nice":false,"zero":false},"axis":null},
    "y2":{"field":"hi"}
   }},
  {"data":{"name":"points"},"transform":[{"filter":"datum.panel === 'D'"}],
   "mark":{"type":"point","filled":true,"stroke":"black","strokeWidth":1.2,"size":400,"opacity":1},
   "encoding":{
    "x":{"field":"t","type":"quantitative","scale":{"domain":[-33.1,10.9],"nice":false,"zero":false},"axis":{"orient":"top","values":[-30,-25,-20,-15,-10,-5,0,5,10],"labels":false,"tickSize":-9,"title":null}},
    "y":{"field":"s","type":"quantitative","scale":{"domain":[-0.1,1.1],"nice":false,"zero":false},"axis":{"orient":"right","values":[0,0.1,0.2,0.3,0.4,0.5,0.6,0.7,0.8,0.9,1],"labels":false,"tickSize":{"condition":{"test":"round(datum.value*10) % 2 === 1","value":-6},"value":-9},"title":null}},
    "shape":{"field":"series","type":"nominal","scale":{"domain":["Nov 2009","Jan 2010","Aug 2010"],"range":["M0,-0.65L0.6,0L0,0.65L-0.6,0Z","M0.5,0A0.5,0.5,0,1,1,-0.5,0A0.5,0.5,0,1,1,0.5,0Z","M0,-0.9L0.223,-0.307L0.856,-0.278L0.361,0.117L0.529,0.728L0,0.38L-0.529,0.728L-0.361,0.117L-0.856,-0.278L-0.223,-0.307Z"]},"legend":null},
    "fill":{"field":"series","type":"nominal","scale":{"domain":["Nov 2009","Jan 2010","Aug 2010"],"range":["black","white","black"]},"legend":null}
   }},
  {"data":{"name":"points"},"transform":[{"filter":"datum.panel === 'D'"}],
   "mark":{"type":"point","filled":true,"stroke":"black","strokeWidth":1.6,"size":1764,"opacity":0},
   "encoding":{
    "x":{"field":"t","type":"quantitative","scale":{"domain":[-33.1,10.9],"nice":false,"zero":false},"axis":{"orient":"bottom","values":[-30,-25,-20,-15,-10,-5,0,5,10],"labels":false,"tickSize":-9,"title":null}},
    "y":{"field":"s","type":"quantitative","scale":{"domain":[-0.1,1.1],"nice":false,"zero":false},"axis":{"orient":"left","values":[0,0.1,0.2,0.3,0.4,0.5,0.6,0.7,0.8,0.9,1],"labels":false,"tickSize":{"condition":{"test":"round(datum.value*10) % 2 === 1","value":-6},"value":-9},"title":null}},
    "shape":{"field":"legend","type":"nominal","scale":{"domain":["LT50 -5.0ºC","LT50 -4.4ºC","LT50 -1.5ºC"],"range":["M-1,0H-0.3M0.3,0H1M0,-0.29L0.3,0L0,0.29L-0.3,0Z","M-1,0h0.08M-0.8,0h0.08M-0.6,0h0.08M-0.4,0h0.08M0.32,0h0.08M0.52,0h0.08M0.72,0h0.08M0.92,0h0.08M0.24,0A0.24,0.24,0,1,1,-0.24,0A0.24,0.24,0,1,1,0.24,0Z","M-1,0H-0.56M0.56,0H1M0,-0.4L0.1,-0.138L0.38,-0.124L0.162,0.053L0.235,0.324L0,0.17L-0.235,0.324L-0.162,0.053L-0.38,-0.124L-0.1,-0.138Z"]},
     "legend":{"title":null,"orient":"none","legendX":23,"legendY":96,"symbolSize":1764,"symbolStrokeWidth":1.6,"symbolStrokeColor":"black","symbolOpacity":1,"clipHeight":20,"rowPadding":1.7,"labelOffset":15,"padding":0,"offset":0,"symbolOffset":0,"encode":{"symbols":{"update":{"stroke":{"value":"black"},"strokeWidth":{"value":1.6},"opacity":{"value":1}}}}}},
    "fill":{"field":"legend","type":"nominal","scale":{"domain":["LT50 -5.0ºC","LT50 -4.4ºC","LT50 -1.5ºC"],"range":["black","white","black"]},
     "legend":{"title":null,"orient":"none","legendX":23,"legendY":96,"symbolSize":1764,"symbolStrokeWidth":1.6,"symbolStrokeColor":"black","symbolOpacity":1,"clipHeight":20,"rowPadding":1.7,"labelOffset":15,"padding":0,"offset":0,"symbolOffset":0,"encode":{"symbols":{"update":{"stroke":{"value":"black"},"strokeWidth":{"value":1.6},"opacity":{"value":1}}}}}}
   }},
  {"data":{"name":"labels"},"transform":[{"filter":"datum.panel === 'D'"}],
   "mark":{"type":"text"},
   "encoding":{
    "x":{"datum":-31.16,"type":"quantitative","scale":{"domain":[-33.1,10.9],"nice":false,"zero":false},"axis":null},
    "y":{"datum":1,"type":"quantitative","scale":{"domain":[-0.1,1.1],"nice":false,"zero":false},"axis":null},
    "text":{"field":"label"}
   }}
 ]
},
{
 "width":317,"height":255,
 "resolve":{"scale":{"shape":"independent","fill":"independent"},"axis":{"x":"independent","y":"independent"}},
 "layer":[
  {"data":{"name":"curves"},"transform":[{"filter":"datum.panel === 'E'"}],
   "mark":{"type":"line","interpolate":"monotone","color":"black","strokeWidth":1.6,"clip":true},
   "encoding":{
    "x":{"field":"t","type":"quantitative","scale":{"domain":[-33.1,10.9],"nice":false,"zero":false},"axis":{"orient":"bottom","values":[-30,-20,-10,0,10],"labelExpr":"'' + datum.value","ticks":false,"tickSize":0,"labels":true,"labelPadding":15,"title":"Temperature (ºC)","titlePadding":2}},
    "y":{"field":"s","type":"quantitative","scale":{"domain":[-0.1,1.1],"nice":false,"zero":false},"axis":{"orient":"left","values":[0,0.2,0.4,0.6,0.8,1],"format":".1f","ticks":false,"tickSize":0,"labelPadding":11,"title":"Survivability","titlePadding":10}},
    "strokeDash":{"field":"series","type":"nominal","scale":{"domain":["Nov 2009","Jan 2010","Aug 2010"],"range":[[1,0],[1.5,2.5],[9,4]]},"legend":null}
   }},
  {"data":{"name":"points"},"transform":[{"filter":"datum.panel === 'E' && isValid(datum.lo)"}],
   "mark":{"type":"errorbar","ticks":{"size":12,"color":"black","thickness":1.3},"rule":{"color":"black","strokeWidth":1.3}},
   "encoding":{
    "x":{"field":"t","type":"quantitative","scale":{"domain":[-33.1,10.9],"nice":false,"zero":false},"axis":null},
    "y":{"field":"lo","type":"quantitative","scale":{"domain":[-0.1,1.1],"nice":false,"zero":false},"axis":null},
    "y2":{"field":"hi"}
   }},
  {"data":{"name":"points"},"transform":[{"filter":"datum.panel === 'E'"}],
   "mark":{"type":"point","filled":true,"stroke":"black","strokeWidth":1.2,"size":400,"opacity":1},
   "encoding":{
    "x":{"field":"t","type":"quantitative","scale":{"domain":[-33.1,10.9],"nice":false,"zero":false},"axis":{"orient":"top","values":[-30,-25,-20,-15,-10,-5,0,5,10],"labels":false,"tickSize":-9,"title":null}},
    "y":{"field":"s","type":"quantitative","scale":{"domain":[-0.1,1.1],"nice":false,"zero":false},"axis":{"orient":"right","values":[0,0.1,0.2,0.3,0.4,0.5,0.6,0.7,0.8,0.9,1],"labels":false,"tickSize":{"condition":{"test":"round(datum.value*10) % 2 === 1","value":-6},"value":-9},"title":null}},
    "shape":{"field":"series","type":"nominal","scale":{"domain":["Nov 2009","Jan 2010","Aug 2010"],"range":["M0,-0.65L0.6,0L0,0.65L-0.6,0Z","M0.5,0A0.5,0.5,0,1,1,-0.5,0A0.5,0.5,0,1,1,0.5,0Z","M0,-0.9L0.223,-0.307L0.856,-0.278L0.361,0.117L0.529,0.728L0,0.38L-0.529,0.728L-0.361,0.117L-0.856,-0.278L-0.223,-0.307Z"]},"legend":null},
    "fill":{"field":"series","type":"nominal","scale":{"domain":["Nov 2009","Jan 2010","Aug 2010"],"range":["black","white","black"]},"legend":null}
   }},
  {"data":{"name":"points"},"transform":[{"filter":"datum.panel === 'E'"}],
   "mark":{"type":"point","filled":true,"stroke":"black","strokeWidth":1.6,"size":1764,"opacity":0},
   "encoding":{
    "x":{"field":"t","type":"quantitative","scale":{"domain":[-33.1,10.9],"nice":false,"zero":false},"axis":{"orient":"bottom","values":[-30,-25,-20,-15,-10,-5,0,5,10],"labels":false,"tickSize":-9,"title":null}},
    "y":{"field":"s","type":"quantitative","scale":{"domain":[-0.1,1.1],"nice":false,"zero":false},"axis":{"orient":"left","values":[0,0.1,0.2,0.3,0.4,0.5,0.6,0.7,0.8,0.9,1],"labels":false,"tickSize":{"condition":{"test":"round(datum.value*10) % 2 === 1","value":-6},"value":-9},"title":null}},
    "shape":{"field":"legend","type":"nominal","scale":{"domain":["LT50 -5.4ºC","LT50 -5.1ºC","LT50 -3.6ºC"],"range":["M-1,0H-0.3M0.3,0H1M0,-0.29L0.3,0L0,0.29L-0.3,0Z","M-1,0h0.08M-0.8,0h0.08M-0.6,0h0.08M-0.4,0h0.08M0.32,0h0.08M0.52,0h0.08M0.72,0h0.08M0.92,0h0.08M0.24,0A0.24,0.24,0,1,1,-0.24,0A0.24,0.24,0,1,1,0.24,0Z","M-1,0H-0.56M0.56,0H1M0,-0.4L0.1,-0.138L0.38,-0.124L0.162,0.053L0.235,0.324L0,0.17L-0.235,0.324L-0.162,0.053L-0.38,-0.124L-0.1,-0.138Z"]},
     "legend":{"title":null,"orient":"none","legendX":23,"legendY":75,"symbolSize":1764,"symbolStrokeWidth":1.6,"symbolStrokeColor":"black","symbolOpacity":1,"clipHeight":20,"rowPadding":1.7,"labelOffset":15,"padding":0,"offset":0,"symbolOffset":0,"encode":{"symbols":{"update":{"stroke":{"value":"black"},"strokeWidth":{"value":1.6},"opacity":{"value":1}}}}}},
    "fill":{"field":"legend","type":"nominal","scale":{"domain":["LT50 -5.4ºC","LT50 -5.1ºC","LT50 -3.6ºC"],"range":["black","white","black"]},
     "legend":{"title":null,"orient":"none","legendX":23,"legendY":75,"symbolSize":1764,"symbolStrokeWidth":1.6,"symbolStrokeColor":"black","symbolOpacity":1,"clipHeight":20,"rowPadding":1.7,"labelOffset":15,"padding":0,"offset":0,"symbolOffset":0,"encode":{"symbols":{"update":{"stroke":{"value":"black"},"strokeWidth":{"value":1.6},"opacity":{"value":1}}}}}}
   }},
  {"data":{"name":"labels"},"transform":[{"filter":"datum.panel === 'E'"}],
   "mark":{"type":"text"},
   "encoding":{
    "x":{"datum":-31.16,"type":"quantitative","scale":{"domain":[-33.1,10.9],"nice":false,"zero":false},"axis":null},
    "y":{"datum":1,"type":"quantitative","scale":{"domain":[-0.1,1.1],"nice":false,"zero":false},"axis":null},
    "text":{"field":"label"}
   }}
 ]
}
]
}
